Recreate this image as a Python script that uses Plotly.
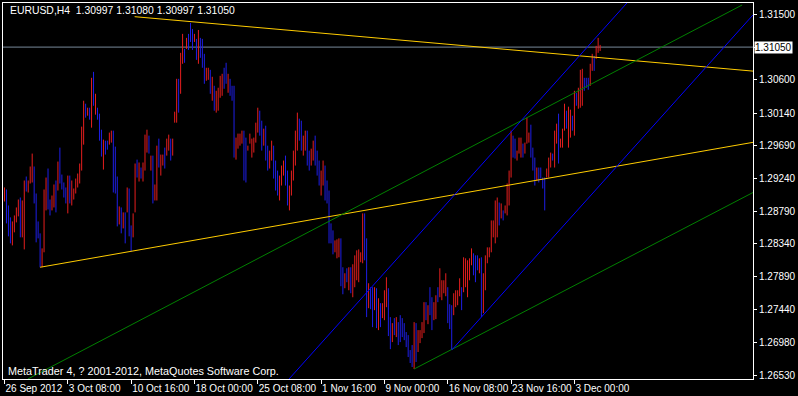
import plotly.graph_objects as go

# ---- data (EURUSD H4, one bar per index) ----
highs = [1.29116,1.29088,1.28868,1.28704,1.28648,1.28731,1.28841,1.28950,1.28978,1.28937,
1.29212,1.29267,1.29212,1.29405,1.29583,1.29405,1.29033,1.28648,1.28484,1.28277,
1.29088,1.29253,1.29377,1.28950,1.29005,1.29157,1.29212,1.29473,1.29665,1.29294,
1.29185,1.29116,1.29280,1.29280,1.29212,1.29102,1.29239,1.29308,1.29446,1.29954,
1.30311,1.30270,1.30215,1.30215,1.30627,1.30709,1.30407,1.30215,1.30133,1.29912,
1.29775,1.29761,1.29761,1.29872,1.29899,1.29899,1.29679,1.29267,1.28855,1.28841,
1.28773,1.28773,1.29116,1.29102,1.28593,1.28759,1.29446,1.29500,1.29460,1.29391,
1.29460,1.29844,1.29912,1.29830,1.29555,1.29555,1.29157,1.29692,1.29789,1.29569,
1.29569,1.29665,1.29789,1.29844,1.29789,1.29789,1.30160,1.30613,1.30613,1.30971,
1.31232,1.31025,1.31177,1.31232,1.31383,1.31300,1.31232,1.31163,1.31286,1.31177,
1.31163,1.30957,1.30765,1.30765,1.30737,1.30641,1.30517,1.30448,1.30490,1.30654,
1.30682,1.30765,1.30834,1.30682,1.30613,1.30517,1.30517,1.29803,1.29858,1.29858,
1.29899,1.29899,1.29803,1.29692,1.29858,1.29789,1.29803,1.30009,1.30215,1.30174,
1.30036,1.29926,1.29967,1.29692,1.29624,1.29761,1.29692,1.29487,1.29349,1.29280,
1.29418,1.29487,1.29555,1.29349,1.29143,1.29349,1.29624,1.29899,1.30147,1.30064,
1.30036,1.29830,1.29899,1.29899,1.29624,1.29651,1.29761,1.29830,1.29624,1.29487,
1.29349,1.29487,1.29418,1.29212,1.29074,1.28621,1.28525,1.28387,1.28401,1.28415,
1.28415,1.28017,1.27934,1.28003,1.28017,1.28017,1.28058,1.28181,1.28250,1.28263,
1.28223,1.28759,1.28759,1.28415,1.27797,1.27742,1.27742,1.27742,1.27728,1.27590,
1.27522,1.27522,1.27700,1.27879,1.27728,1.27330,1.27247,1.27316,1.27330,1.27261,
1.27357,1.27316,1.27247,1.27124,1.27082,1.26876,1.26945,1.27261,1.27247,1.27151,
1.27151,1.27261,1.27536,1.27536,1.27494,1.27742,1.27604,1.27536,1.27631,1.27742,
1.28003,1.27838,1.27838,1.27934,1.27742,1.27508,1.27494,1.27659,1.27700,1.27700,
1.27865,1.27742,1.28154,1.28140,1.28113,1.28140,1.28277,1.28209,1.28181,1.28181,
1.28140,1.28154,1.27934,1.28181,1.28291,1.28291,1.28662,1.28662,1.28937,1.28978,
1.28909,1.28896,1.28800,1.28868,1.29171,1.29349,1.29899,1.29830,1.29789,1.29624,
1.29803,1.29803,1.29720,1.29734,1.30078,1.29872,1.29981,1.29665,1.29528,1.29391,
1.29391,1.29391,1.29253,1.29253,1.29377,1.29528,1.29597,1.29583,1.29899,1.29995,
1.30133,1.29789,1.29926,1.30270,1.30174,1.30229,1.30188,1.30105,1.30448,1.30421,
1.30490,1.30737,1.30751,1.30627,1.30627,1.30627,1.30820,1.30957,1.30929,1.31067,
1.31177,1.31080]

lows = [1.28923,1.28621,1.28443,1.28346,1.28318,1.28498,1.28635,1.28718,1.28429,1.28429,
1.28263,1.29060,1.29047,1.29171,1.29185,1.28896,1.28360,1.28415,1.28017,1.28017,
1.28223,1.28800,1.28813,1.28731,1.28800,1.28841,1.28773,1.29074,1.29171,1.29088,
1.28978,1.28896,1.28759,1.28896,1.28868,1.28950,1.29033,1.29116,1.29171,1.29349,
1.29706,1.30078,1.30105,1.30050,1.29940,1.30242,1.30119,1.30050,1.29761,1.29542,
1.29363,1.29569,1.29637,1.29706,1.29734,1.29047,1.29033,1.28580,1.28607,1.28484,
1.28552,1.28346,1.28773,1.28443,1.28236,1.28429,1.28773,1.29253,1.29198,1.29239,
1.29198,1.29349,1.29597,1.29583,1.29349,1.28896,1.28937,1.28937,1.29391,1.29280,
1.29418,1.29377,1.29555,1.29624,1.29487,1.29555,1.30009,1.30009,1.30147,1.30407,
1.30820,1.30834,1.31025,1.31011,1.31121,1.31011,1.31121,1.30874,1.30820,1.30902,
1.30765,1.30545,1.30586,1.30599,1.30407,1.30311,1.30174,1.30147,1.30174,1.30352,
1.30379,1.30476,1.30545,1.30421,1.30379,1.30311,1.29528,1.29500,1.29651,1.29692,
1.29720,1.29212,1.29185,1.29624,1.29720,1.29528,1.29597,1.29734,1.29872,1.29830,
1.29624,1.29692,1.29487,1.29349,1.29377,1.29487,1.29239,1.29074,1.29005,1.28937,
1.29143,1.29280,1.29143,1.28868,1.28800,1.29005,1.29212,1.29418,1.29624,1.29761,
1.29624,1.29555,1.29624,1.29418,1.29349,1.29418,1.29487,1.29418,1.29280,1.29143,
1.29005,1.29143,1.28937,1.28896,1.28346,1.28346,1.28195,1.28223,1.28140,1.28154,
1.27756,1.27645,1.27728,1.27811,1.27700,1.27659,1.27604,1.27742,1.27838,1.27811,
1.28086,1.28072,1.28113,1.27330,1.27453,1.27439,1.27192,1.27426,1.27178,1.27151,
1.27192,1.27316,1.27288,1.27467,1.27069,1.26889,1.26986,1.27082,1.27055,1.26945,
1.26986,1.27055,1.27013,1.26917,1.26780,1.26698,1.26643,1.26615,1.26712,1.26849,
1.26972,1.27041,1.27110,1.27288,1.27233,1.27357,1.27151,1.27288,1.27302,1.27536,
1.27604,1.27563,1.27659,1.27618,1.27247,1.27165,1.26876,1.27357,1.27467,1.27494,
1.27618,1.27426,1.27673,1.27742,1.27604,1.27838,1.28044,1.27906,1.27811,1.27975,
1.27934,1.27330,1.27385,1.27700,1.28072,1.28154,1.28223,1.28429,1.28346,1.28429,
1.28593,1.28690,1.28662,1.28759,1.28731,1.28868,1.29253,1.29528,1.29514,1.29487,
1.29583,1.29528,1.29528,1.29583,1.29720,1.29734,1.29528,1.29349,1.29143,1.29212,
1.29185,1.29239,1.29102,1.28800,1.29253,1.29253,1.29391,1.29487,1.29391,1.29720,
1.29446,1.29665,1.29665,1.29899,1.29926,1.29665,1.29803,1.29899,1.29830,1.30242,
1.30201,1.30215,1.30242,1.30448,1.30490,1.30462,1.30517,1.30723,1.30723,1.30888,
1.30971,1.30997]

# bar direction: 'r' = up bar (red), 'b' = down bar (blue)
bar_dir = ("rbbbrrrrbr" "rbrrrbbbbr" "rrbbrrbrbb" "bbrbrrrrrr" "rbrbrbrbbb"
           "rbbrrbbbrb" "rbrbbrrbrb" "rrrbrbrrbr" "rbrrbrrrbr" "rbrbbbrbrb"
           "bbrrbrbrrr" "rbbrbbbrrr" "rbbrrrrrrb" "brbbrrbbbr" "rrbbrrrrrb"
           "brrbbrrbbb" "rrbbbbbrrr" "bbrbrbrrrr" "rrbbrbbrbr" "brrrbbrbrb"
           "bbbbbbbrbr" "rrrbrbbrrb" "rrrrbbbrrr" "rbrrrrrbbb" "rbrrrrrrrr"
           "brbrrrrbbr" "rrbrrrbbbr" "bbbbrrrbrr" "brrrbrrbrb" "rrrbbbrrbr" "rr")

time_label_bars = [0, 32, 64, 96, 128, 160, 192, 224, 256, 288]
time_labels = ["26 Sep 2012", "3 Oct 08:00", "10 Oct 16:00", "18 Oct 00:00", "25 Oct 08:00",
               "1 Nov 16:00", "9 Nov 00:00", "16 Nov 08:00", "23 Nov 16:00", "3 Dec 00:00"]
price_ticks = [1.31500, 1.31050, 1.30600, 1.30140, 1.29690, 1.29240,
               1.28790, 1.28340, 1.27890, 1.27440, 1.26980, 1.26530]
bid = 1.31050
header = "EURUSD,H4  1.30997 1.31080 1.30997 1.31050"
footer = "MetaTrader 4, ? 2001-2012, MetaQuotes Software Corp."

# trendlines: (bar_start, price_start, bar_end, price_end, colour)
trendlines = [
    (65.75, 1.31469, 378.25, 1.30719, "#FFCC00"),
    (18.0, 1.28017, 378.25, 1.29738, "#FFCC00"),
    (11.85, 1.26478, 372.75, 1.31630, "#008000"),
    (207.0, 1.26615, 378.25, 1.29047, "#008000"),
    (143.8, 1.26478, 314.55, 1.31658, "#0000FF"),
    (226.0, 1.26876, 378.25, 1.31493, "#0000FF"),
]

UP_COLOR = "#E61E1E"
DN_COLOR = "#1E1EE6"
X_RANGE = [-0.75, 378.25]
Y_RANGE = [1.264775, 1.316575]

fig = go.Figure()

ux, uy, dx, dy = [], [], [], []
for i, (h, l, d) in enumerate(zip(highs, lows, bar_dir)):
    if d == "r":
        ux += [i, i, None]; uy += [l, h, None]
    else:
        dx += [i, i, None]; dy += [l, h, None]

fig.add_trace(go.Scatter(x=ux, y=uy, mode="lines", line=dict(color=UP_COLOR, width=1),
                         hoverinfo="skip", connectgaps=False))
fig.add_trace(go.Scatter(x=dx, y=dy, mode="lines", line=dict(color=DN_COLOR, width=1),
                         hoverinfo="skip", connectgaps=False))

for x0, p0, x1, p1, c in trendlines:
    fig.add_trace(go.Scatter(x=[x0, x1], y=[p0, p1], mode="lines",
                             line=dict(color=c, width=1), hoverinfo="skip"))

fig.add_shape(type="line", xref="paper", yref="y", x0=0, x1=1, y0=bid, y1=bid,
              line=dict(color="#778899", width=1), layer="below")

FONT = "Liberation Sans"

fig.add_annotation(xref="paper", yref="paper", x=0.0066, y=1.0, xanchor="left", yanchor="top",
                   text=header, showarrow=False, font=dict(family=FONT, size=10.4, color="white"))
fig.add_annotation(xref="paper", yref="paper", x=0.004, y=0.0, xanchor="left", yanchor="bottom",
                   text=footer, showarrow=False, font=dict(family=FONT, size=10.8, color="white"))
fig.add_annotation(xref="paper", yref="y", x=1, y=bid, xanchor="left", yanchor="middle",
                   text=f"{bid:.5f}", showarrow=False, bgcolor="white", borderpad=0,
                   xshift=1, font=dict(family=FONT, size=10, color="black"))

fig.update_layout(
    width=798, height=396,
    margin=dict(l=2, r=38, t=2, b=17, pad=0),
    paper_bgcolor="black", plot_bgcolor="black",
    showlegend=False,
    font=dict(family=FONT, size=10, color="white"),
    xaxis=dict(range=X_RANGE, showgrid=False, zeroline=False, showline=True, mirror=True,
               linecolor="white", linewidth=1, ticks="outside", ticklen=4, tickcolor="white",
               tickvals=time_label_bars, ticktext=time_labels, tickangle=0,
               ticklabelposition="outside right",
               tickfont=dict(family=FONT, size=10, color="white"), fixedrange=True),
    yaxis=dict(range=Y_RANGE, side="right", showgrid=False, zeroline=False, showline=True,
               mirror=True, linecolor="white", linewidth=1, ticks="outside", ticklen=3,
               tickcolor="white", tickvals=price_ticks,
               ticktext=["" if v == bid else f"{v:.5f}" for v in price_ticks],
               tickfont=dict(family=FONT, size=10, color="white"), fixedrange=True),
)

fig.write_html("out.html")
